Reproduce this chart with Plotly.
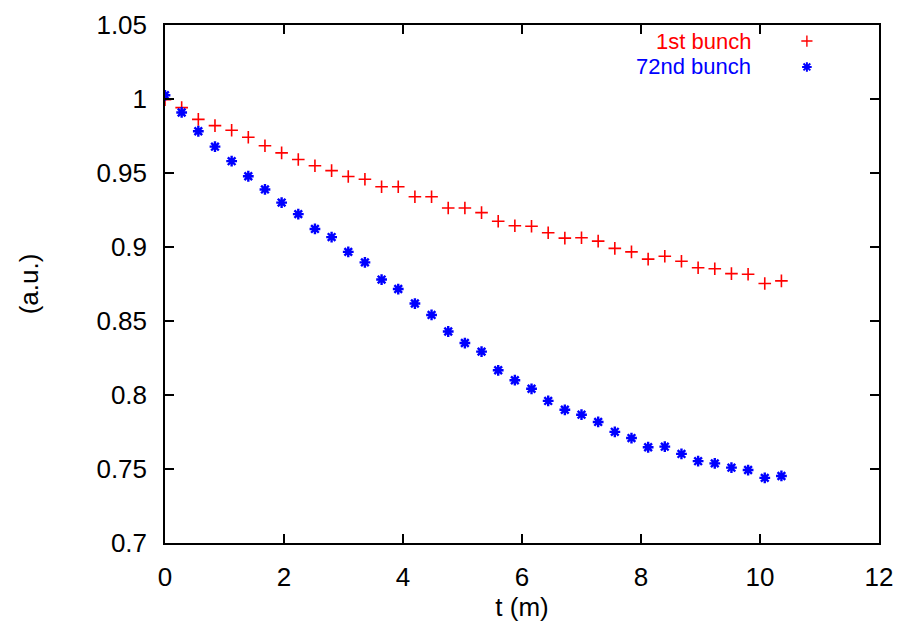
import plotly.graph_objects as go

# ---- data ----
t_step = 0.28
n_points = 38
t_values = [round(i * t_step, 2) for i in range(n_points)]

bunch1 = [0.9995, 0.9942, 0.9862, 0.982, 0.9789, 0.9742, 0.9684, 0.9636, 0.9591, 0.9549,
          0.9516, 0.9476, 0.9458, 0.9407, 0.9407, 0.934, 0.934, 0.9264, 0.9264, 0.9232,
          0.9174, 0.9144, 0.914, 0.9096, 0.906, 0.9062, 0.904, 0.8991, 0.8967, 0.8918,
          0.8938, 0.8904, 0.886, 0.8853, 0.882, 0.8816, 0.8753, 0.8771]

bunch72 = [1.0025, 0.9909, 0.9782, 0.9678, 0.958, 0.9478, 0.9389, 0.930, 0.9222, 0.9122,
           0.9067, 0.8967, 0.8896, 0.878, 0.8716, 0.8618, 0.8541, 0.8429, 0.8351, 0.8293,
           0.8167, 0.81, 0.8042, 0.796, 0.79, 0.7867, 0.7818, 0.7751, 0.7709, 0.7647,
           0.7651, 0.7602, 0.7553, 0.7538, 0.7509, 0.7493, 0.744, 0.7453]

series_names = ["1st bunch", "72nd bunch"]
series_colors = ["#ff0000", "#0000ff"]

x_ticks = [0, 2, 4, 6, 8, 10, 12]
y_ticks = [0.7, 0.75, 0.8, 0.85, 0.9, 0.95, 1.0, 1.05]
y_ticktext = ["0.7", "0.75", "0.8", "0.85", "0.9", "0.95", "1", "1.05"]

FONT = "Liberation Sans, Arial, sans-serif"
FS = 26

fig = go.Figure()

fig.add_trace(go.Scatter(
    x=t_values, y=bunch1, mode="markers", name=series_names[0],
    marker=dict(symbol="cross-thin", size=9, color=series_colors[0],
                line=dict(color=series_colors[0], width=1.6)),
    showlegend=False))

fig.add_trace(go.Scatter(
    x=t_values, y=bunch72, mode="markers", name=series_names[1],
    marker=dict(symbol="asterisk", size=9, color=series_colors[1],
                line=dict(color=series_colors[1], width=2.4)),
    showlegend=False))

# gnuplot-style legend key: text right-aligned, sample symbol to its right
legend_rows = [0.969, 0.919]
fig.add_trace(go.Scatter(
    x=[0.899, 0.899], y=legend_rows, xaxis="x2", yaxis="y2", mode="markers",
    marker=dict(symbol=["cross-thin", "asterisk"], size=8, color=series_colors,
                line=dict(color=series_colors, width=[1.4, 2.0])),
    showlegend=False, hoverinfo="skip"))
for name, col, yy in zip(series_names, series_colors, legend_rows):
    fig.add_annotation(x=0.822, y=yy, xref="paper", yref="paper", text=name,
                       showarrow=False, xanchor="right", yanchor="middle",
                       borderpad=0,
                       font=dict(family=FONT, size=22, color=col))

axis_common = dict(showgrid=False, zeroline=False, showline=True, linecolor="black",
                   linewidth=1.5, ticks="inside", ticklen=9, tickwidth=1.5,
                   tickcolor="black", mirror="ticks", automargin=False,
                   ticklabeloverflow="allow",
                   tickfont=dict(family=FONT, size=FS, color="black"))

# page body adds an 8px offset, so margins are shifted to compensate
fig.update_layout(
    width=911, height=633,
    margin=dict(l=157, r=40, t=17, b=98),
    paper_bgcolor="white", plot_bgcolor="white",
    xaxis=dict(range=[0, 12], tickvals=x_ticks, ticklabelstandoff=10,
               title=dict(text="t (m)", font=dict(family=FONT, size=FS, color="black"),
                          standoff=4),
               **axis_common),
    yaxis=dict(range=[0.7, 1.05], tickvals=y_ticks, ticktext=y_ticktext,
               ticklabelstandoff=11,
               title=dict(text="(a.u.)", font=dict(family=FONT, size=FS, color="black"),
                          standoff=50),
               **axis_common),
    xaxis2=dict(range=[0, 1], domain=[0, 1], overlaying="x", visible=False, fixedrange=True),
    yaxis2=dict(range=[0, 1], domain=[0, 1], overlaying="y", visible=False, fixedrange=True),
)

fig.write_html("out.html")
